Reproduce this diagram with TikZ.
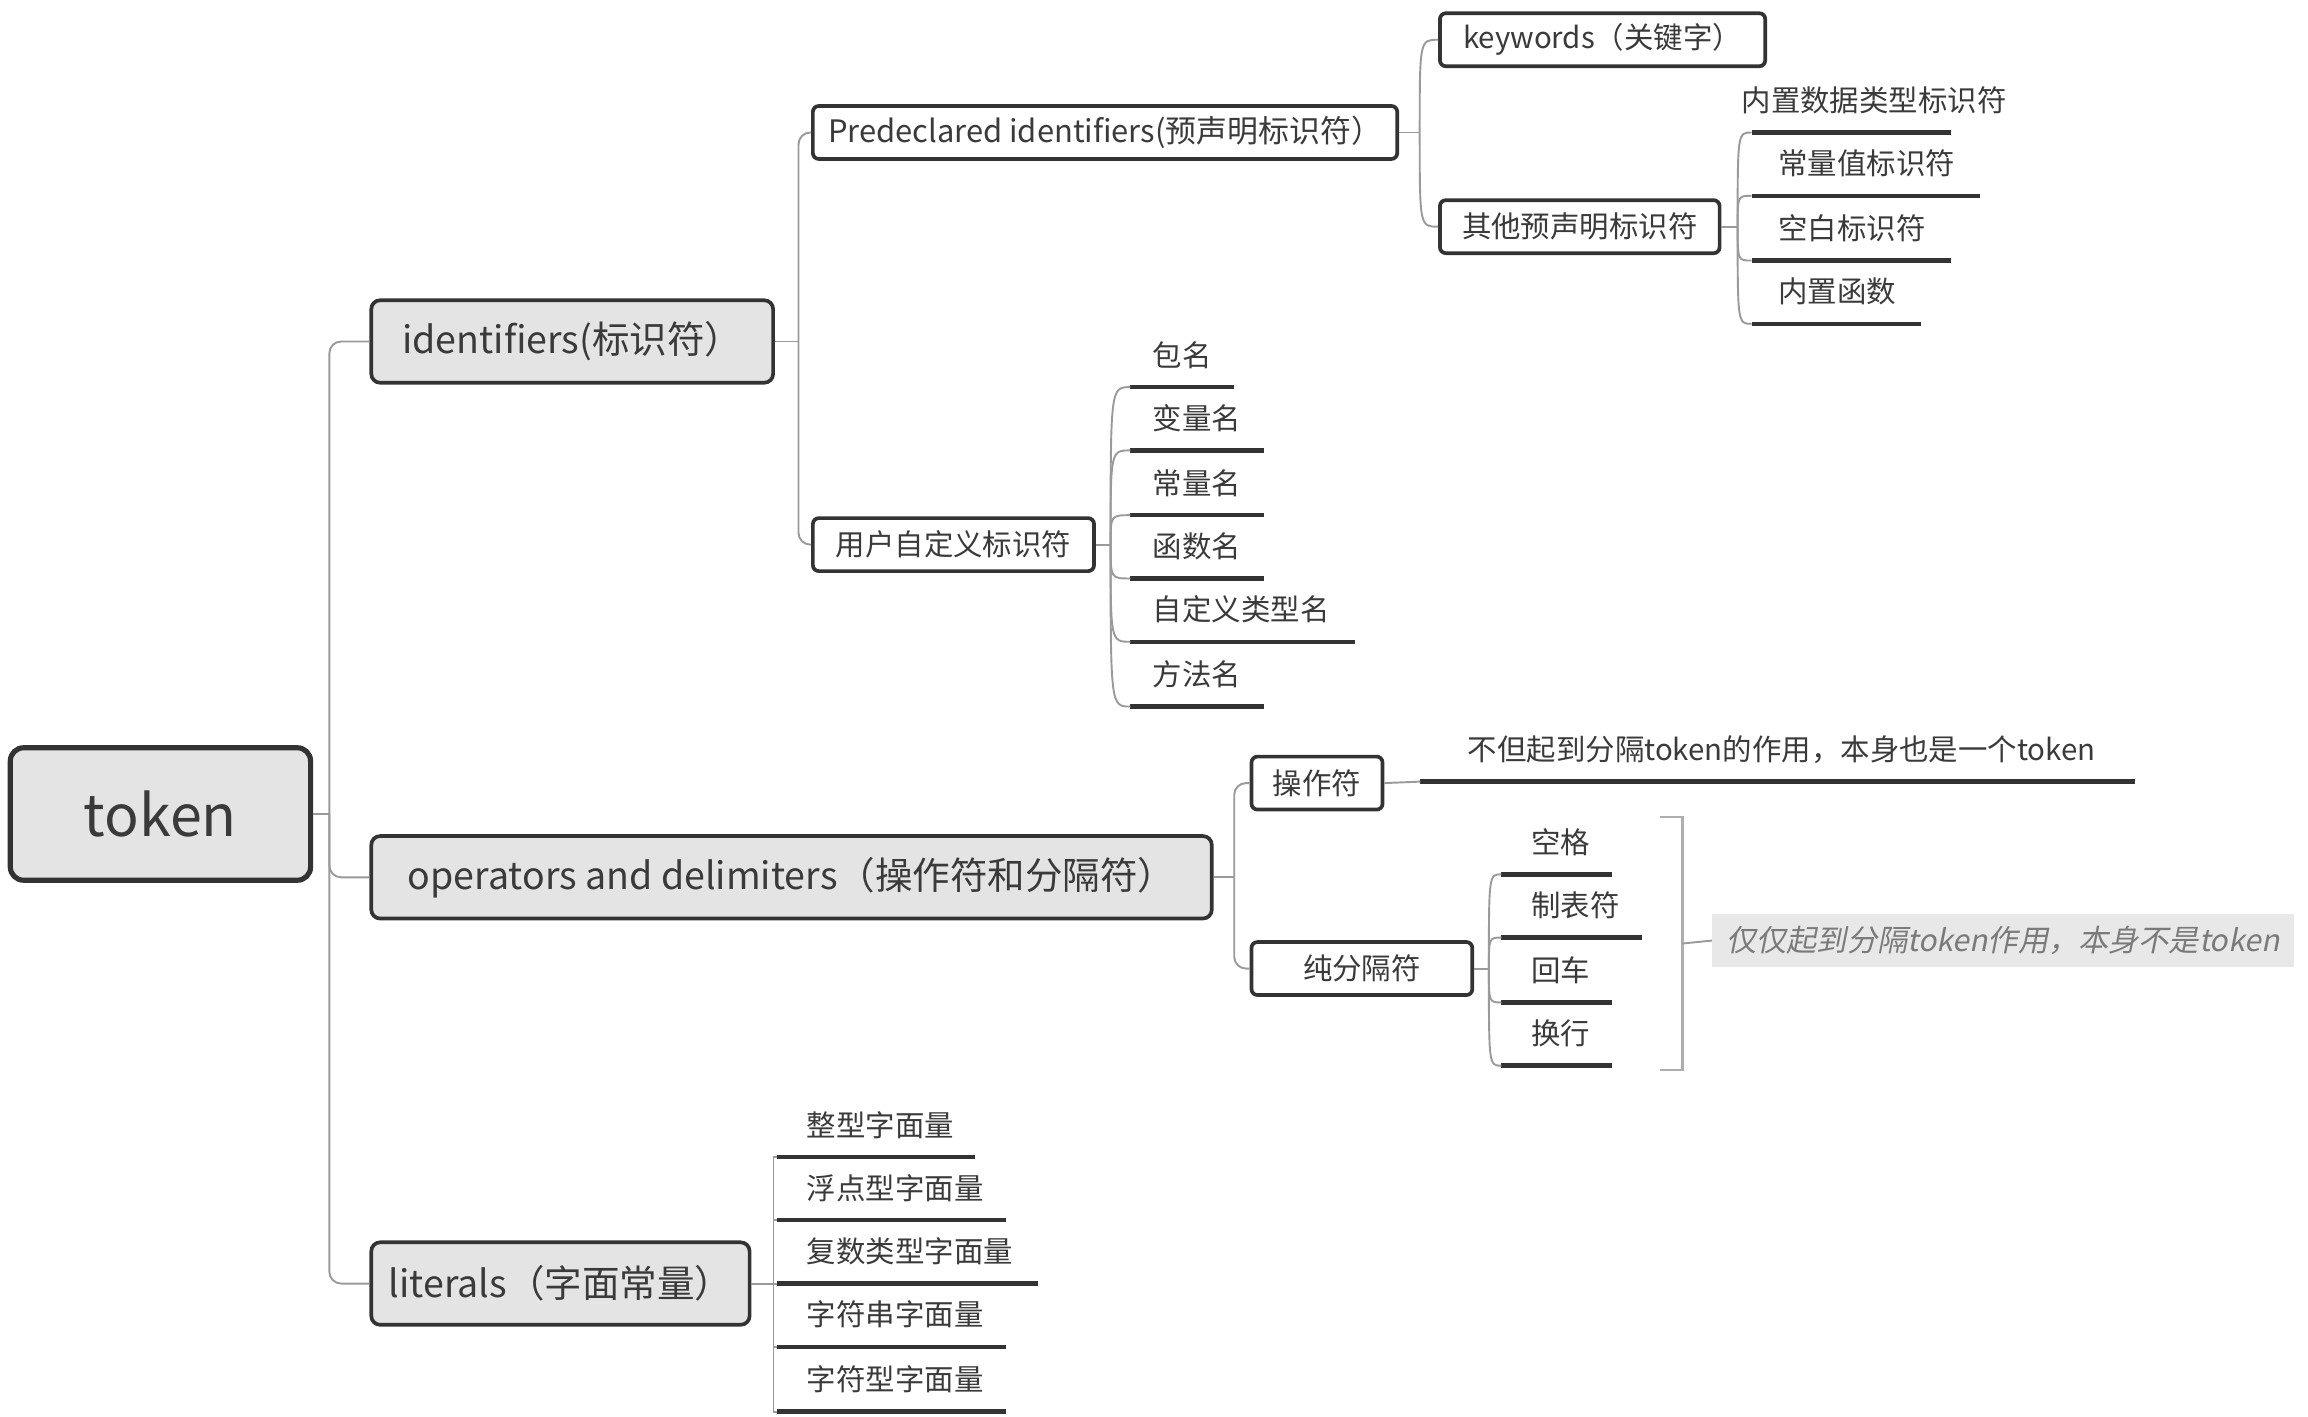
\documentclass[tikz,border=0pt]{standalone}
\usepackage{fontspec}
\setmainfont{Noto Sans CJK SC}
\newfontfamily\slantfont[FakeSlant=0.2]{Noto Sans CJK SC}
\usetikzlibrary{calc}
\definecolor{txt}{HTML}{3A3A3A}
\definecolor{bfill}{HTML}{E4E4E4}
\definecolor{bord}{HTML}{333333}
\definecolor{conncol}{HTML}{9A9A9A}
\definecolor{notefill}{HTML}{E8E8E8}
\definecolor{notetxt}{HTML}{7A7A7A}
\tikzset{
  rootbox/.style={draw=bord, line width=3.5pt, rounded corners=9pt, fill=bfill, minimum width=204pt, minimum height=90pt, text=txt, font=\fontsize{39}{41}\selectfont, inner sep=0pt},
  mainbox/.style={draw=bord, line width=2.5pt, rounded corners=6pt, fill=bfill, minimum height=56pt, text=txt, font=\fontsize{25.5}{28}\selectfont, inner sep=0pt, anchor=west},
  subbox/.style={draw=bord, line width=2.5pt, rounded corners=4pt, fill=white, minimum height=36pt, text=txt, font=\fontsize{20}{22}\selectfont, inner sep=0pt, anchor=west},
  leaf/.style={anchor=south west, inner sep=0pt, text depth=14pt, text width=#1, align=left, text=txt, font=\fontsize{20}{22}\selectfont},
  notebox/.style={fill=notefill, minimum height=36pt, inner sep=0pt, anchor=west, text=notetxt, font=\fontsize{20.5}{22}\selectfont\slantfont},
  uline/.style={draw=bord, line width=3pt},
  conn/.style={draw=conncol, line width=1.3pt},
  brk/.style={draw=conncol!80, line width=1.8pt}
}
\begin{document}
\begin{tikzpicture}[x=1pt,y=-1pt]
\useasboundingbox (0,0) rectangle (1568,962);
% root and main level
\node[rootbox] (token) at (109,553) {token};
\node[mainbox, minimum width=273pt] (ident) at (251,232) {identifiers(标识符）};
\node[mainbox, minimum width=571pt] (ops) at (251,596) {operators and delimiters（操作符和分隔符）};
\node[mainbox, minimum width=257pt] (lit) at (251,872) {literals（字面常量）};
% identifiers
\node[subbox, minimum width=397pt, font=\fontsize{21}{23}\selectfont] (pre) at (551,90) {Predeclared identifiers(预声明标识符）};
\node[subbox, minimum width=191pt] (user) at (551,370) {用户自定义标识符};
\node[subbox, minimum width=221pt] (kw) at (977,27) {keywords（关键字）};
\node[subbox, minimum width=190pt] (oth) at (977,154) {其他预声明标识符};
\node[leaf=135pt] (o1) at (1190,90) {\hspace*{-7pt}\mbox{内置数据类型标识符}};
\node[leaf=155pt] (o2) at (1190,133) {\hspace*{18pt}\mbox{常量值标识符}};
\node[leaf=135pt] (o3) at (1190,177) {\hspace*{18pt}\mbox{空白标识符}};
\node[leaf=115pt] (o4) at (1190,220) {\hspace*{18pt}\mbox{内置函数}};
\node[leaf=70pt] (u1) at (768,263) {\hspace*{15pt}\mbox{包名}};
\node[leaf=90pt] (u2) at (768,306) {\hspace*{15pt}\mbox{变量名}};
\node[leaf=90pt] (u3) at (768,350) {\hspace*{15pt}\mbox{常量名}};
\node[leaf=90pt] (u4) at (768,393) {\hspace*{15pt}\mbox{函数名}};
\node[leaf=152pt] (u5) at (768,436) {\hspace*{15pt}\mbox{自定义类型名}};
\node[leaf=90pt] (u6) at (768,480) {\hspace*{15pt}\mbox{方法名}};
% operators
\node[subbox, minimum width=89pt] (opr) at (849,532) {操作符};
\node[subbox, minimum width=150pt] (pure) at (849,658) {纯分隔符};
\node[leaf=485pt] (n1) at (965,531) {\hspace*{32pt}\mbox{不但起到分隔token的作用，本身也是一个token}};
\node[leaf=75pt] (s1) at (1020,594) {\hspace*{20pt}\mbox{空格}};
\node[leaf=95pt] (s2) at (1020,637) {\hspace*{20pt}\mbox{制表符}};
\node[leaf=75pt] (s3) at (1020,681) {\hspace*{20pt}\mbox{回车}};
\node[leaf=75pt] (s4) at (1020,724) {\hspace*{20pt}\mbox{换行}};
\node[notebox, minimum width=395pt] (n2) at (1163,639) {仅仅起到分隔token作用，本身不是token};
% literals
\node[leaf=134pt] (l1) at (528,786) {\hspace*{20pt}\mbox{整型字面量}};
\node[leaf=155pt] (l2) at (528,829) {\hspace*{20pt}\mbox{浮点型字面量}};
\node[leaf=177pt] (l3) at (528,872) {\hspace*{20pt}\mbox{复数类型字面量}};
\node[leaf=155pt] (l4) at (528,915) {\hspace*{20pt}\mbox{字符串字面量}};
\node[leaf=155pt] (l5) at (528,959) {\hspace*{20pt}\mbox{字符型字面量}};
% underlines
\foreach \n in {o1,o2,o3,o4,u1,u2,u3,u4,u5,u6,n1,s1,s2,s3,s4,l1,l2,l3,l4,l5}
  \draw[uline] (\n.south west) -- (\n.south east);
% connectors: token
\coordinate (tj) at ($(token.east)+(11,0)$);
\draw[conn] (token.east) -- (tj);
\foreach \c in {ident,ops,lit}
  \draw[conn, rounded corners=8pt] (tj) |- (\c.west);
% identifiers
\coordinate (ij) at ($(ident.east)+(16,0)$);
\draw[conn] (ident.east) -- (ij);
\foreach \c in {pre,user}
  \draw[conn, rounded corners=8pt] (ij) |- (\c.west);
% predeclared
\coordinate (pj) at ($(pre.east)+(14,0)$);
\draw[conn] (pre.east) -- (pj);
\foreach \c in {kw,oth}
  \draw[conn] (pj) .. controls (pj |- \c.west) .. (\c.west);
% other predeclared
\coordinate (oj) at ($(oth.east)+(11,0)$);
\draw[conn] (oth.east) -- (oj);
\foreach \c in {o1,o2,o3,o4}
  \draw[conn] (oj) .. controls (oj |- \c.south west) .. (\c.south west);
% user defined
\coordinate (uj) at ($(user.east)+(10,0)$);
\draw[conn] (user.east) -- (uj);
\foreach \c in {u1,u2,u3,u4,u5,u6}
  \draw[conn] (uj) .. controls (uj |- \c.south west) .. (\c.south west);
% operators
\coordinate (opj) at ($(ops.east)+(14,0)$);
\draw[conn] (ops.east) -- (opj);
\foreach \c in {opr,pure}
  \draw[conn, rounded corners=8pt] (opj) |- (\c.west);
\draw[conn] (opr.east) -- (n1.south west);
\coordinate (sj) at ($(pure.east)+(10,0)$);
\draw[conn] (pure.east) -- (sj);
\foreach \c in {s1,s2,s3,s4}
  \draw[conn] (sj) .. controls (sj |- \c.south west) .. (\c.south west);
% bracket
\draw[brk] (1128,555) -- (1143,555) -- (1143,727) -- (1128,727);
\coordinate (bm) at (1143,641);
\draw[conn] (bm) -- (n2.west);
% literals
\coordinate (lj) at ($(lit.east)+(15,0)$);
\draw[conn] (lit.east) -- (lj);
\foreach \c in {l1,l2,l3,l4,l5}
  \draw[conn] (lj) |- (\c.south west);
\end{tikzpicture}
\end{document}
